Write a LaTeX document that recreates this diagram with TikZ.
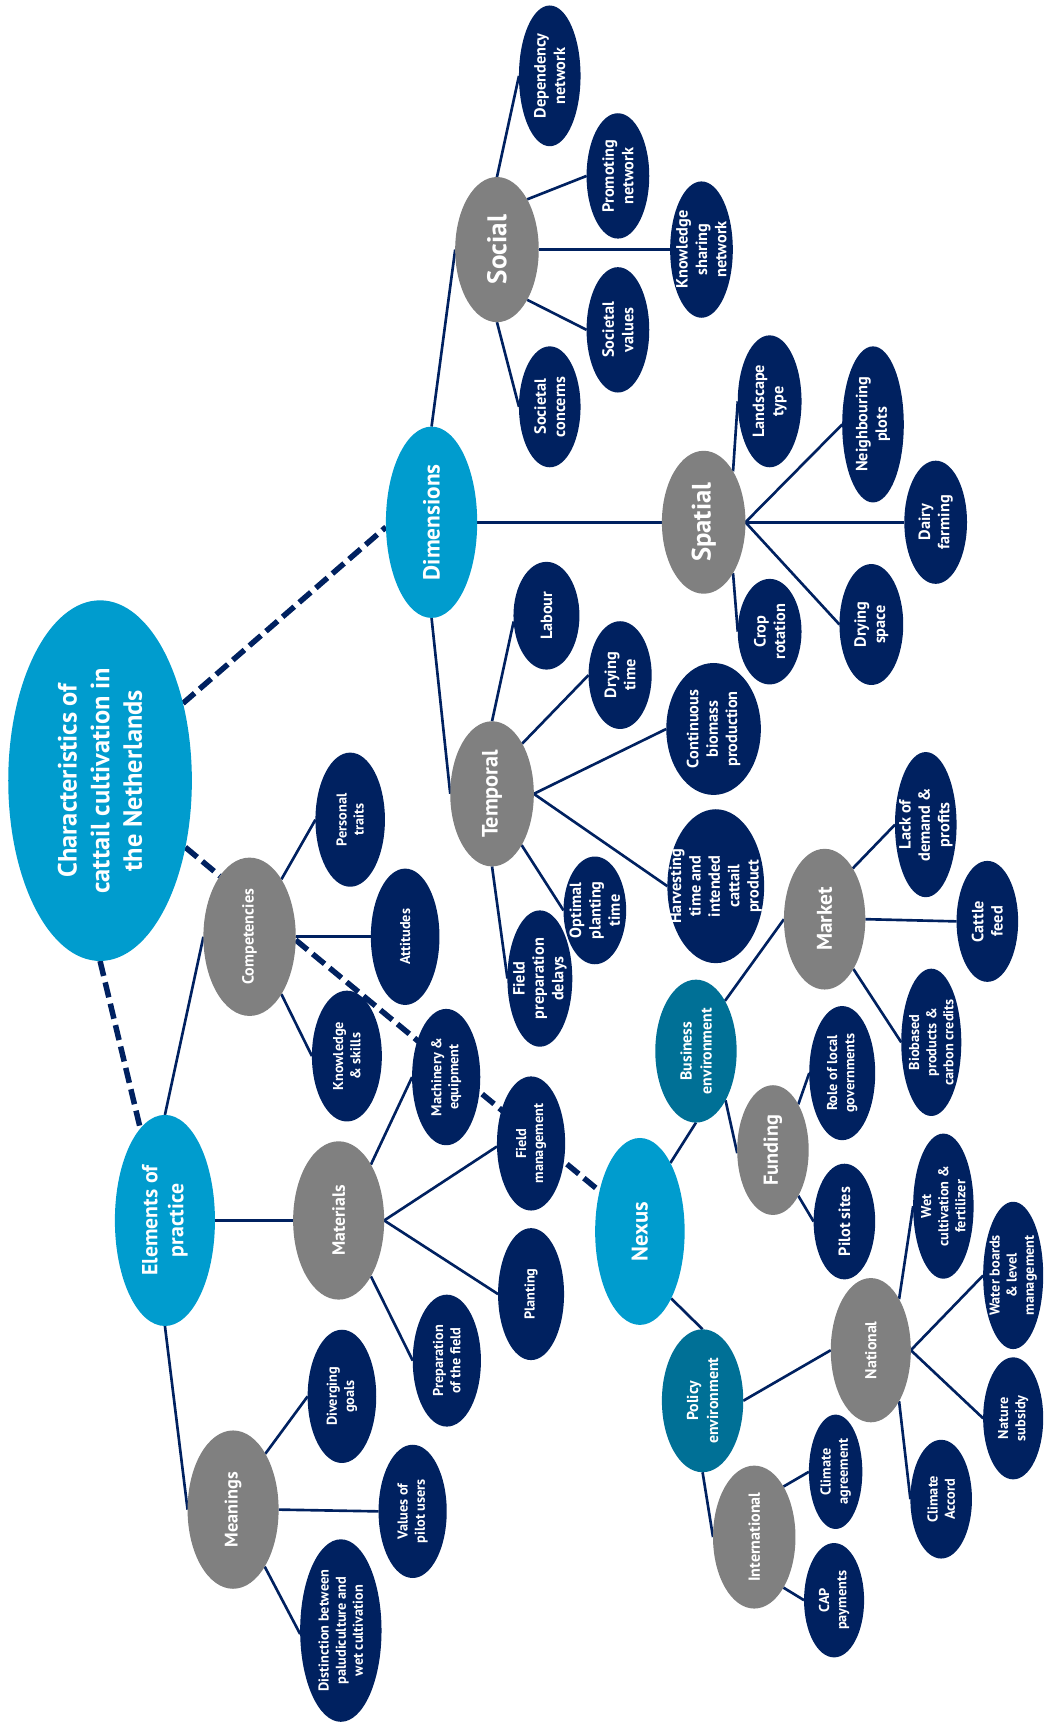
\documentclass[tikz,border=0pt]{standalone}
\usepackage{fontspec}
\setmainfont{PT Sans}
\usetikzlibrary{shapes.geometric,backgrounds}

\definecolor{skyblue}{HTML}{009CCE}
\definecolor{deepteal}{HTML}{007096}
\definecolor{slate}{HTML}{808080}
\definecolor{navy}{HTML}{002160}

% one ellipse with a centred, rotated caption:
% style, name, x, y, half width (pt), half height (pt), font style, text
\newcommand\mnode[8]{%
  \node[#1, minimum width=#5pt, minimum height=#6pt,
        label={[txt,#7]center:{#8}}] (#2) at (#3,#4) {};}

\begin{document}
\begin{tikzpicture}[x=0.5pt, y=-0.5pt,
  bub/.style={ellipse, inner sep=0pt, outer sep=0pt, draw=none},
  top/.style={bub, fill=skyblue},
  env/.style={bub, fill=deepteal},
  mid/.style={bub, fill=slate},
  leaf/.style={bub, fill=navy},
  txt/.style={rotate=90, align=center, text=white, inner sep=0pt},
  fs/.style 2 args={font=\fontsize{#1}{#2}\selectfont\bfseries},
  fL/.style={fs={7.4}{8.8}},
  fS/.style={fs={6.5}{7.8}},
  link/.style={draw=navy, line width=1.2pt},
  dashline/.style={draw=navy, line width=2.5pt, dash pattern=on 7pt off 3pt}]

\useasboundingbox (0,0) rectangle (949,1568);

% main branches
\mnode{top}{root}{91}{710}{83.5}{164}{fs={12}{14.8}}{Characteristics of\\cattail cultivation in\\the Netherlands}
\mnode{top}{dim}{392.5}{475}{41.5}{87}{fs={10.6}{12}}{Dimensions}
\mnode{top}{elem}{150}{1110}{45.5}{96}{fs={9.9}{11.8}}{Elements of\\practice}
\mnode{top}{nexus}{582}{1120}{40.7}{85}{fs={10.3}{12}}{Nexus}
\mnode{env}{busenv}{633}{956}{37}{65}{fs={7.2}{9.1}}{Business\\environment}
\mnode{env}{policy}{639}{1274}{37}{65}{fs={7.2}{9.1}}{Policy\\environment}

% second level
\mnode{mid}{social}{452}{227}{38}{66}{fs={12.3}{14}}{Social}
\mnode{mid}{spatial}{640}{475}{38}{65}{fs={12.1}{14}}{Spatial}
\mnode{mid}{temporal}{447.5}{722}{38}{66}{fs={10.1}{12}}{Temporal}
\mnode{mid}{comp}{227}{852}{42}{72}{fs={7.3}{9}}{Competencies}
\mnode{mid}{mat}{308}{1110}{41.4}{72}{fs={8.1}{9.5}}{Materials}
\mnode{mid}{mean}{212}{1373}{41.4}{72}{fs={8.3}{9.5}}{Meanings}
\mnode{mid}{market}{750}{836}{37}{64}{fs={9.7}{11}}{Market}
\mnode{mid}{funding}{703}{1046}{32.5}{59}{fs={9.2}{11}}{Funding}
\mnode{mid}{national}{792}{1228}{36.4}{65.6}{fs={7.2}{9}}{National}
\mnode{mid}{intl}{686}{1398}{37.5}{65}{fs={7.3}{9}}{International}

% social
\mnode{leaf}{dep}{500}{69}{28}{64}{fL}{Dependency\\network}
\mnode{leaf}{prom}{562}{160}{28.5}{57}{fL}{Promoting\\network}
\mnode{leaf}{know}{638}{227}{28.5}{62}{fL}{Knowledge\\sharing\\network}
\mnode{leaf}{sval}{562}{300}{28.5}{57}{fL}{Societal\\values}
\mnode{leaf}{scon}{500}{370}{28}{55}{fL}{Societal\\concerns}

% spatial
\mnode{leaf}{land}{700}{365}{29}{60}{fL}{Landscape\\type}
\mnode{leaf}{neigh}{794}{386}{28}{71}{fL}{Neighbouring\\plots}
\mnode{leaf}{dairy}{851}{475}{28.5}{56}{fL}{Dairy\\farming}
\mnode{leaf}{dryspace}{792.5}{568}{29}{55}{fL}{Drying\\space}
\mnode{leaf}{crop}{700}{574.5}{29}{48}{fL}{Crop\\rotation}

% temporal
\mnode{leaf}{labour}{497}{560}{30}{49}{fL}{Labour}
\mnode{leaf}{drytime}{564}{614}{28.7}{49}{fL}{Drying\\time}
\mnode{leaf}{cont}{649}{663}{43}{60}{fL}{Continuous\\biomass\\production}
\mnode{leaf}{harv}{651}{806}{44}{70}{fL}{Harvesting\\time and\\intended\\cattail\\product}
\mnode{leaf}{opt}{541}{828}{28.5}{49}{fL}{Optimal\\planting\\time}
\mnode{leaf}{fprep}{491}{890}{29.5}{62}{fL}{Field\\preparation\\delays}

% competencies
\mnode{leaf}{pers}{318.5}{745.5}{31.6}{61}{fS}{Personal\\traits}
\mnode{leaf}{att}{368.5}{852}{31.2}{62}{fS}{Attitudes}
\mnode{leaf}{ks}{315.5}{960.5}{31.8}{59.5}{fS}{Knowledge\\\& skills}

% materials
\mnode{leaf}{mach}{405.8}{979.6}{31}{62}{fS}{Machinery \&\\equipment}
\mnode{leaf}{fman}{483}{1040}{31}{61}{fS}{Field\\management}
\mnode{leaf}{plant}{483}{1177}{30}{60}{fS}{Planting}
\mnode{leaf}{prepf}{406.4}{1237.5}{31}{60}{fS}{Preparation\\of the field}

% meanings
\mnode{leaf}{div}{311}{1270}{31.2}{60.6}{fS}{Diverging\\goals}
\mnode{leaf}{val}{375.3}{1374.6}{31}{60.6}{fS}{Values of\\pilot users}
\mnode{leaf}{dist}{310}{1483}{37}{83}{fS}{Distinction between\\paludiculture and\\wet cultivation}

% market and funding
\mnode{leaf}{lack}{842}{750}{28}{66}{fL}{Lack of\\demand \&\\profits}
\mnode{leaf}{cattle}{898}{838}{28}{55}{fL}{Cattle\\feed}
\mnode{leaf}{bio}{847}{948}{27.3}{67}{fS}{Biobased\\products \&\\carbon credits}
\mnode{leaf}{role}{766}{976}{30}{61}{fS}{Role of local\\governments}
\mnode{leaf}{pilot}{768}{1111}{28}{52.6}{fL}{Pilot sites}

% policy
\mnode{leaf}{wet}{858}{1097}{27.5}{66}{fS}{Wet\\cultivation \&\\fertilizer}
\mnode{leaf}{water}{921.5}{1160}{27.3}{67}{fS}{Water boards\\\& level\\management}
\mnode{leaf}{nature}{921.5}{1290}{27.3}{55.5}{fS}{Nature\\subsidy}
\mnode{leaf}{caccord}{856}{1363.5}{28}{54}{fS}{Climate\\Accord}
\mnode{leaf}{cagree}{760}{1338.6}{24.3}{52}{fS}{Climate\\agreement}
\mnode{leaf}{cap}{758.6}{1455.4}{27.3}{52}{fS}{CAP\\payments}

\begin{scope}[on background layer]
  % dashed links between the main branches
  \draw[dashline] (root.43) -- (dim.186.6);
  \draw[dashline] (root.-38) -- (comp.116);
  \draw[dashline] (root.-90) -- (elem.105);
  \draw[dashline] (comp.-4) -- (nexus.135);

  \draw[link] (dim.90) -- (social.180);
  \draw[link] (dim.0) -- (spatial.180);
  \draw[link] (dim.-90) -- (temporal.180);

  \draw[link] (social.90) -- (dep.180);
  \draw[link] (social.59) -- (prom.180);
  \draw[link] (social.0) -- (know.180);
  \draw[link] (social.-59) -- (sval.180);
  \draw[link] (social.-90) -- (scon.180);

  \draw[link] (spatial.60) -- (land.180);
  \draw[link] (spatial.0) -- (neigh.180);
  \draw[link] (spatial.0) -- (dairy.180);
  \draw[link] (spatial.0) -- (dryspace.180);
  \draw[link] (spatial.-60) -- (crop.180);

  \draw[link] (temporal.90) -- (labour.190);
  \draw[link] (temporal.59) -- (drytime.180);
  \draw[link] (temporal.0) -- (cont.180);
  \draw[link] (temporal.0) -- (harv.180);
  \draw[link] (temporal.-60) -- (opt.180);
  \draw[link] (temporal.-90) -- (fprep.180);

  \draw[link] (elem.90) -- (comp.180);
  \draw[link] (elem.0) -- (mat.180);
  \draw[link] (elem.-90) -- (mean.180);

  \draw[link] (comp.61) -- (pers.180);
  \draw[link] (comp.0) -- (att.180);
  \draw[link] (comp.-61) -- (ks.180);

  \draw[link] (mat.60) -- (mach.180);
  \draw[link] (mat.0) -- (fman.185);
  \draw[link] (mat.0) -- (plant.180);
  \draw[link] (mat.-60) -- (prepf.180);

  \draw[link] (mean.60) -- (div.180);
  \draw[link] (mean.0) -- (val.180);
  \draw[link] (mean.-61) -- (dist.185);

  \draw[link] (nexus.66) -- (busenv.-90);
  \draw[link] (nexus.-65) -- (policy.90);

  \draw[link] (busenv.60) -- (market.180);
  \draw[link] (busenv.-59) -- (funding.185);
  \draw[link] (market.61) -- (lack.180);
  \draw[link] (market.0) -- (cattle.180);
  \draw[link] (market.-60) -- (bio.180);
  \draw[link] (funding.61) -- (role.180);
  \draw[link] (funding.-61) -- (pilot.180);

  \draw[link] (policy.0) -- (national.180);
  \draw[link] (policy.-90) -- (intl.180);
  \draw[link] (national.61) -- (wet.180);
  \draw[link] (national.0) -- (water.180);
  \draw[link] (national.0) -- (nature.180);
  \draw[link] (national.-61) -- (caccord.180);
  \draw[link] (intl.60) -- (cagree.180);
  \draw[link] (intl.-60) -- (cap.180);
\end{scope}
\end{tikzpicture}
\end{document}
